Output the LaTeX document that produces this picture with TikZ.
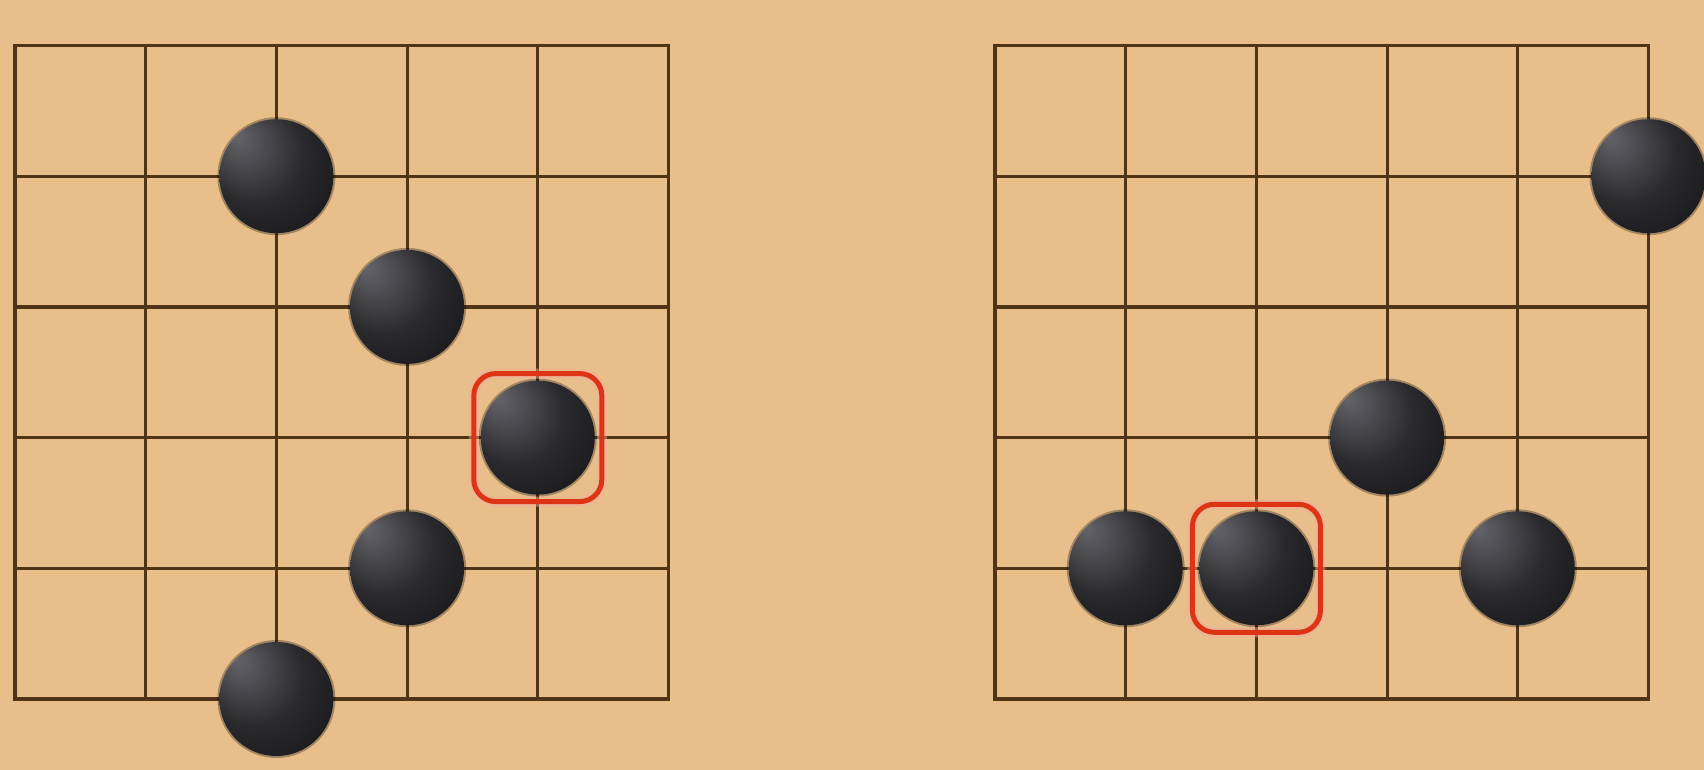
\documentclass[tikz,border=0pt]{standalone}
\definecolor{board}{RGB}{232,190,138}
\definecolor{gridline}{RGB}{80,52,22}
\definecolor{markred}{RGB}{222,52,22}
\definecolor{stonelight}{RGB}{100,100,106}
\definecolor{stonemid}{RGB}{42,42,46}
\definecolor{stonedark}{RGB}{10,10,12}
\pgfdeclareradialshading{stoneshade}{\pgfpoint{-18bp}{18bp}}{color(0bp)=(stonelight); color(22bp)=(stonemid); color(50bp)=(stonedark)}
\tikzset{
  stone/.style={circle, minimum size=114pt, inner sep=0pt, shading=stoneshade,
    preaction={draw=black, draw opacity=0.3, line width=4pt}},
  markbox/.style={draw=markred, line width=5pt, rounded corners=22pt, minimum size=128pt, inner sep=0pt,
    preaction={draw=markred!40, draw opacity=0.45, line width=10pt}},
  gridln/.style={draw=gridline, line width=3.2pt, line cap=rect}
}
\begin{document}
\begin{tikzpicture}[x=1pt, y=-1pt]
\fill[board] (0,0) rectangle (1704,770);
\useasboundingbox (0,0) rectangle (1704,770);
% left board
\begin{scope}[shift={(15,45.5)}, x=130.7pt, y=-130.7pt]
  \foreach \i in {0,...,5} {
    \draw[gridln] (\i,0) -- (\i,5);
    \draw[gridln] (0,\i) -- (5,\i);
  }
  \node[stone] (l1) at (2,1) {};
  \node[stone] (l2) at (3,2) {};
  \node[stone] (l3) at (4,3) {};
  \node[stone] (l4) at (3,4) {};
  \node[stone] (l5) at (2,5) {};
  \node[markbox] (lbox) at (l3) {};
\end{scope}
% right board
\begin{scope}[shift={(995,45.5)}, x=130.7pt, y=-130.7pt]
  \foreach \i in {0,...,5} {
    \draw[gridln] (\i,0) -- (\i,5);
    \draw[gridln] (0,\i) -- (5,\i);
  }
  \node[stone] (r1) at (5,1) {};
  \node[stone] (r2) at (3,3) {};
  \node[stone] (r3) at (1,4) {};
  \node[stone] (r4) at (2,4) {};
  \node[stone] (r5) at (4,4) {};
  \node[markbox] (rbox) at (r4) {};
\end{scope}
\end{tikzpicture}
\end{document}
